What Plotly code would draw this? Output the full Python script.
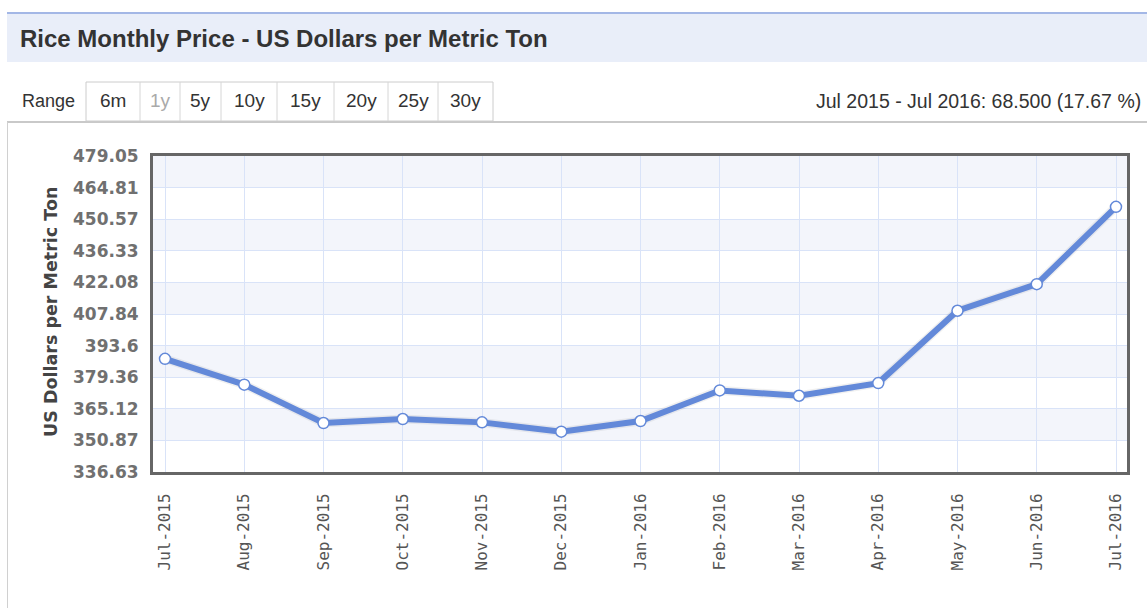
import plotly.graph_objects as go

# Monthly rice price, US dollars per metric ton
months = ["Jul-2015", "Aug-2015", "Sep-2015", "Oct-2015", "Nov-2015", "Dec-2015",
          "Jan-2016", "Feb-2016", "Mar-2016", "Apr-2016", "May-2016", "Jun-2016", "Jul-2016"]
prices = [387.65, 376.0, 358.7, 360.5, 359.0, 354.8, 359.6, 373.4, 371.0, 376.7, 409.3, 421.3, 456.15]

y_tick_labels = ["336.63", "350.87", "365.12", "379.36", "393.6", "407.84",
                 "422.08", "436.33", "450.57", "464.81", "479.05"]
range_buttons = ["6m", "1y", "5y", "10y", "15y", "20y", "25y", "30y"]

title_text = "Rice Monthly Price - US Dollars per Metric Ton"
change_text = "Jul 2015 - Jul 2016: 68.500 (17.67 %)"
y_title = "US Dollars per Metric Ton"

# page geometry (pixels)
W, H = 1147, 608
L, R, T, B = 153, 20, 156, 136
PW, PH = W - L - R, H - T - B
STEP = 79.25  # pixels between months


def fx(px):
    return (px - L) / PW


def fy(py):
    return (H - B - py) / PH


LINE = "#6389d9"
GRID = "#d9e3f8"
BAND = "#f3f5fb"

y_vals = [float(v) for v in y_tick_labels]

fig = go.Figure()

# soft shadow under the series line
fig.add_trace(go.Scatter(
    x=months, y=prices, mode="lines",
    line=dict(color="rgba(0,0,0,0.06)", width=9),
    hoverinfo="skip", showlegend=False,
))
fig.add_trace(go.Scatter(
    x=months, y=prices, mode="lines+markers",
    line=dict(color=LINE, width=6),
    marker=dict(symbol="circle", size=11, color="white",
                line=dict(color=LINE, width=1.5)),
    showlegend=False,
))

shapes = []
# alternating horizontal bands
for i in range(1, len(y_vals) - 1, 2):
    shapes.append(dict(type="rect", xref="paper", yref="y", layer="below",
                       x0=0, x1=1, y0=y_vals[i], y1=y_vals[i + 1],
                       fillcolor=BAND, line=dict(width=0)))

# title bar
shapes.append(dict(type="rect", xref="paper", yref="paper", layer="below",
                   x0=fx(7), x1=fx(W + 2), y0=fy(62), y1=fy(13),
                   fillcolor="#e9eef9", line=dict(width=0)))
shapes.append(dict(type="line", xref="paper", yref="paper",
                   x0=fx(7), x1=fx(W + 2), y0=fy(13), y1=fy(13),
                   line=dict(color="#a3b7e6", width=2)))

# chart panel frame
shapes.append(dict(type="line", xref="paper", yref="paper",
                   x0=fx(7), x1=fx(W + 2), y0=fy(122), y1=fy(122),
                   line=dict(color="#c9c9c9", width=2)))
shapes.append(dict(type="line", xref="paper", yref="paper",
                   x0=fx(7.5), x1=fx(7.5), y0=fy(122), y1=fy(H + 2),
                   line=dict(color="#d0d0d0", width=1)))

# range selector buttons
btn_edges = [86, 140, 180, 221, 277, 334, 388, 438, 493]
shapes.append(dict(type="rect", xref="paper", yref="paper",
                   x0=fx(btn_edges[0]), x1=fx(btn_edges[-1]), y0=fy(121), y1=fy(82),
                   fillcolor="white", line=dict(color="#cccccc", width=1)))
for e in btn_edges[1:-1]:
    shapes.append(dict(type="line", xref="paper", yref="paper",
                       x0=fx(e), x1=fx(e), y0=fy(121), y1=fy(82),
                       line=dict(color="#d6d6d6", width=1)))

annotations = [
    dict(text="<b>" + title_text + "</b>", x=fx(18), y=fy(38),
         xref="paper", yref="paper", xanchor="left", yanchor="middle",
         showarrow=False, font=dict(family="Liberation Sans", size=24, color="#333333")),
    dict(text="Range", x=fx(20), y=fy(101), xref="paper", yref="paper",
         xanchor="left", yanchor="middle", showarrow=False,
         font=dict(family="Liberation Sans", size=18, color="#333333")),
    dict(text=change_text, x=fx(1143), y=fy(101), xref="paper", yref="paper",
         xanchor="right", yanchor="middle", showarrow=False,
         font=dict(family="Liberation Sans", size=19.5, color="#333333")),
    dict(text="<b>" + y_title + "</b>", x=fx(51), y=fy(312), textangle=-90,
         xref="paper", yref="paper", xanchor="center", yanchor="middle",
         showarrow=False, font=dict(family="DejaVu Sans", size=17.5, color="#444444")),
]
for i, lab in enumerate(range_buttons):
    cx = (btn_edges[i] + btn_edges[i + 1]) / 2
    annotations.append(dict(
        text=lab, x=fx(cx), y=fy(101), xref="paper", yref="paper",
        xanchor="center", yanchor="middle", showarrow=False,
        font=dict(family="Liberation Sans", size=19,
                  color="#aaaaaa" if lab == "1y" else "#333333")))

x0 = -12 / STEP
fig.update_layout(
    width=W, height=H,
    margin=dict(l=L, r=R, t=T, b=B, pad=0),
    paper_bgcolor="white", plot_bgcolor="white",
    shapes=shapes, annotations=annotations,
    xaxis=dict(
        type="category", range=[x0, x0 + PW / STEP],
        showgrid=True, gridcolor=GRID, gridwidth=1,
        tickangle=-90, ticks="", ticklabelstandoff=12,
        tickfont=dict(family="DejaVu Sans Mono", size=16, color="#555555"),
        showline=True, linecolor="#666666", linewidth=3, mirror=True,
        zeroline=False, fixedrange=True,
    ),
    yaxis=dict(
        range=[y_vals[0], y_vals[-1]],
        tickvals=y_vals, ticktext=y_tick_labels,
        showgrid=True, gridcolor=GRID, gridwidth=1,
        ticks="", ticklabelstandoff=8,
        tickfont=dict(family="DejaVu Sans", size=17, color="#707070", weight="bold"),
        showline=True, linecolor="#666666", linewidth=3, mirror=True,
        zeroline=False, fixedrange=True,
    ),
)

fig.write_html("out.html")
